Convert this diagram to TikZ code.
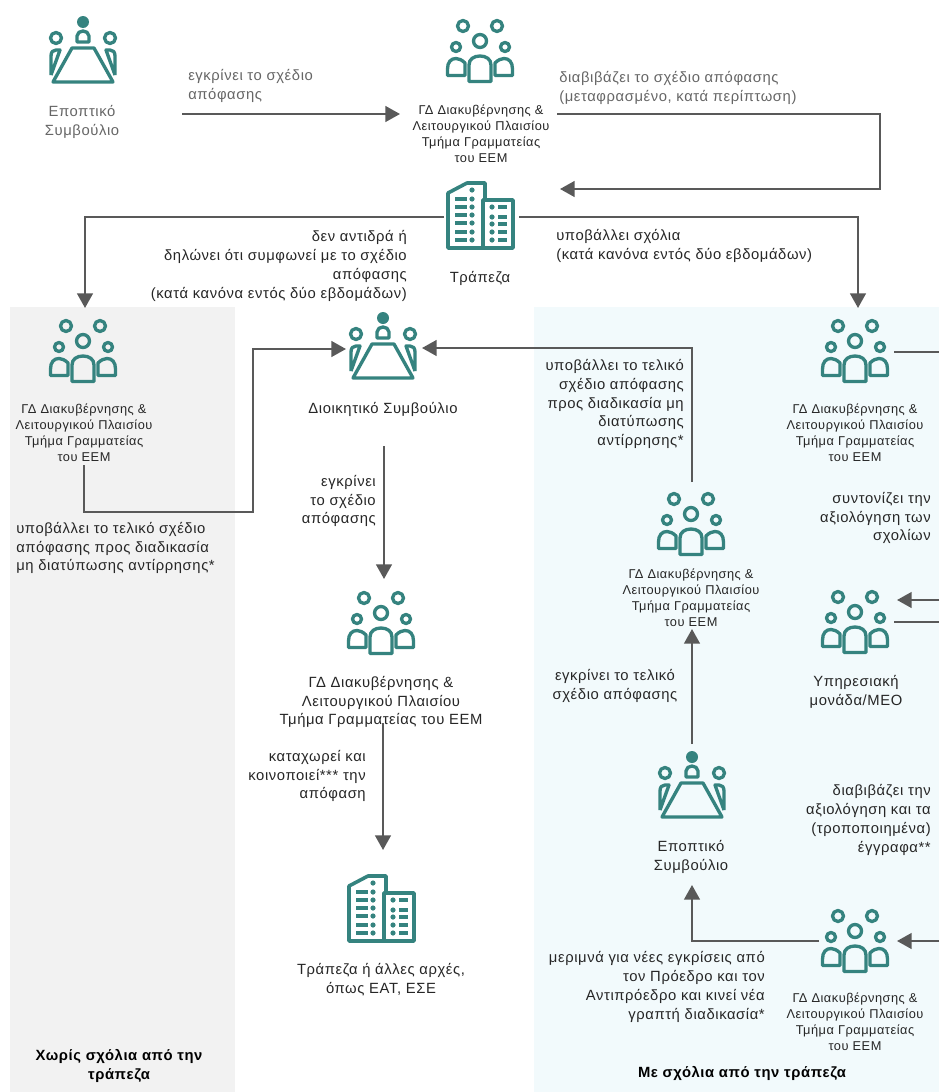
\documentclass[tikz,border=0pt]{standalone}
\usepackage{fontspec}
\setmainfont[LetterSpace=4]{Liberation Sans}
\usetikzlibrary{arrows.meta,calc}
\definecolor{iconteal}{HTML}{35837F}
\definecolor{linegray}{HTML}{595959}
\definecolor{softgray}{HTML}{666666}
\definecolor{inkgray}{HTML}{262626}
\definecolor{panelgray}{HTML}{F2F2F2}
\definecolor{panelblue}{HTML}{F2FAFC}
\tikzset{
  x=0.75pt,y=-0.75pt,
  iconline/.style={draw=iconteal,line width=2.5pt,line join=round},
  iconbox/.style={inner sep=0pt,minimum width=52.5pt,minimum height=52.5pt},
  conn/.style={draw=linegray,line width=1.6pt},
  arr/.style={conn,-{Triangle[length=10.9pt,width=11.7pt]}},
  body/.style={font=\fontsize{11.1}{14.2}\selectfont,text=inkgray,inner sep=0pt,align=center},
  bodyr/.style={body,align=right,anchor=east},
  bodyl/.style={body,align=left,anchor=west},
  soft/.style={text=softgray},
  small/.style={font=\fontsize{9.6}{12}\selectfont,text=inkgray,inner sep=0pt,align=center},
  head/.style={font=\fontsize{11.1}{14.2}\bfseries\selectfont,text=black,inner sep=0pt,align=center},
  groupicon/.pic={
    \draw[iconline] (-17,-24) circle (5.5);
    \draw[iconline] (17,-24) circle (5.5);
    \draw[iconline] (0,-9) circle (6.5);
    \draw[iconline] (-24,-3) circle (4.5);
    \draw[iconline] (25,-3) circle (4.5);
    \draw[iconline] (-11,31.5) -- (-11,15) .. controls (-11,9) and (-6,6) .. (0,6) .. controls (6,6) and (11,9) .. (11,15) -- (11,31.5) -- cycle;
    \draw[iconline] (-15,25.5) -- (-32.5,25.5) -- (-32.5,19) .. controls (-32.5,12) and (-29,8.5) .. (-24,8.5) .. controls (-21,8.5) and (-18,10) .. (-15,13) -- cycle;
    \draw[iconline] (15,25.5) -- (32.5,25.5) -- (32.5,19) .. controls (32.5,12) and (29,8.5) .. (24,8.5) .. controls (21,8.5) and (18,10) .. (15,13) -- cycle;
  },
  boardicon/.pic={
    \fill[iconteal] (0,-29) circle (6);
    \draw[iconline] (-6,-9) -- (-6,-15) .. controls (-6,-18) and (-3,-20) .. (0,-20) .. controls (3,-20) and (6,-18) .. (6,-15) -- (6,-9) -- cycle;
    \draw[iconline] (-27,-13) circle (5.5);
    \draw[iconline] (27,-13) circle (5.5);
    \draw[iconline] (-11,-3) -- (11,-3) -- (30,31) -- (-30,31) -- cycle;
    \draw[iconline] (-32,24) -- (-32,5) .. controls (-32,1) and (-30,-1) .. (-27,-1) -- (-23,-1) -- (-32,24);
    \draw[iconline] (32,24) -- (32,5) .. controls (32,1) and (30,-1) .. (27,-1) -- (23,-1) -- (32,24);
  },
  bankicon/.pic={
    \draw[iconline,line width=2.7pt] (3,33) -- (-32,33) -- (-32,-22) -- (-13,-32) -- (5,-32) -- (5,-15);
    \draw[iconline,line width=2.7pt] (3,-15) rectangle (33,33);
    \foreach \yy in {-16,-8,0,8,17,25} {
      \draw[iconteal,line width=2.7pt] (-25,\yy) -- (-13,\yy);
      \fill[iconteal] (-8,\yy) circle (2.6);
    }
    \fill[iconteal] (-8,-25) circle (2.6);
    \foreach \yy in {-8,2,9,17,25} {
      \fill[iconteal] (12,\yy) circle (2.6);
      \draw[iconteal,line width=2.7pt] (18,\yy) -- (27,\yy);
    }
  },
}
\begin{document}
\begin{tikzpicture}
\useasboundingbox (0,0) rectangle (939,1092);
\fill[white] (0,0) rectangle (939,1092);
\fill[panelgray] (10,307) rectangle (235,1092);
\fill[panelblue] (534,307) rectangle (939,1092);

% icon anchors
\node[iconbox] (boardTop) at (83,51) {};
\node[iconbox] (groupTop) at (480,50) {};
\node[iconbox] (bankTop) at (480,215) {};
\node[iconbox] (groupLeft) at (83,350) {};
\node[iconbox] (boardMain) at (383,347) {};
\node[iconbox] (groupMid) at (381,622) {};
\node[iconbox] (bankEnd) at (381,908) {};
\node[iconbox] (groupFinal) at (691,523) {};
\node[iconbox] (boardSup) at (692,786) {};
\node[iconbox] (groupRight) at (855,350) {};
\node[iconbox] (unitMEO) at (855,621) {};
\node[iconbox] (groupLow) at (855,940) {};
\coordinate (edgeA) at (939,352);
\coordinate (edgeB) at (939,600);
\coordinate (edgeC) at (939,622);
\coordinate (edgeD) at (939,941);

% icons
\pic at (boardTop) {boardicon};
\pic at (groupTop) {groupicon};
\pic at (bankTop) {bankicon};
\pic at (groupLeft) {groupicon};
\pic at (boardMain) {boardicon};
\pic at (groupMid) {groupicon};
\pic at (bankEnd) {bankicon};
\pic at (groupFinal) {groupicon};
\pic at (boardSup) {boardicon};
\pic at (groupRight) {groupicon};
\pic at (unitMEO) {groupicon};
\pic at (groupLow) {groupicon};

% connectors
\draw[arr] ($(boardTop)+(99,63)$) -- ($(groupTop)+(-80,64)$);
\draw[arr] ($(groupTop)+(77,64)$) -- (880,114) -- (880,189) -- ($(bankTop)+(80,-26)$);
\draw[arr] ($(bankTop)+(-36,2)$) -- (85,217) -- ($(groupLeft)+(2,-42)$);
\draw[arr] ($(bankTop)+(39,2)$) -- (858,217) -- ($(groupRight)+(3,-42)$);
\draw[arr] ($(groupLeft)+(1,115)$) -- (84,512) -- (253,512) -- (253,349) -- ($(boardMain)+(-37,2)$);
\draw[arr] ($(boardMain)+(1,99)$) -- ($(groupMid)+(3,-43)$);
\draw[arr] ($(groupMid)+(2,101)$) -- ($(bankEnd)+(2,-58)$);
\draw[arr] ($(boardSup)+(0,-42)$) -- ($(groupFinal)+(1,106)$);
\draw[arr] ($(groupFinal)+(1,-41)$) -- (692,348) -- ($(boardMain)+(39,1)$);
\draw[arr] ($(groupLow)+(-36,1)$) -- (692,941) -- ($(boardSup)+(0,99)$);
\draw[conn] ($(groupRight)+(39,2)$) -- (edgeA);
\draw[arr] (edgeB) -- ($(unitMEO)+(42,-21)$);
\draw[conn] ($(unitMEO)+(39,1)$) -- (edgeC);
\draw[arr] (edgeD) -- ($(groupLow)+(42,1)$);

% labels
\node[body,soft] (lbBoardTop) at (82,122) {Εποπτικό\\Συμβούλιο};
\node[small] (lbGroupTop) at (481,134) {ΓΔ Διακυβέρνησης \&\\Λειτουργικού Πλαισίου\\Τμήμα Γραμματείας\\του ΕΕΜ};
\node[body] (lbBank) at (480,278) {Τράπεζα};
\node[small] (lbGroupLeft) at (84,433) {ΓΔ Διακυβέρνησης \&\\Λειτουργικού Πλαισίου\\Τμήμα Γραμματείας\\του ΕΕΜ};
\node[body] (lbMain) at (383,409) {Διοικητικό Συμβούλιο};
\node[body] (lbMid) at (381,702) {ΓΔ Διακυβέρνησης \&\\Λειτουργικού Πλαισίου\\Τμήμα Γραμματείας του ΕΕΜ};
\node[body] (lbEnd) at (381,980) {Τράπεζα ή άλλες αρχές,\\όπως ΕΑΤ, ΕΣΕ};
\node[small] (lbFinal) at (691,598) {ΓΔ Διακυβέρνησης \&\\Λειτουργικού Πλαισίου\\Τμήμα Γραμματείας\\του ΕΕΜ};
\node[body] (lbSup) at (691,857) {Εποπτικό\\Συμβούλιο};
\node[small] (lbRight) at (855,433) {ΓΔ Διακυβέρνησης \&\\Λειτουργικού Πλαισίου\\Τμήμα Γραμματείας\\του ΕΕΜ};
\node[body] (lbMEO) at (856,692) {Υπηρεσιακή\\μονάδα/ΜΕΟ};
\node[small] (lbLow) at (855,1022) {ΓΔ Διακυβέρνησης \&\\Λειτουργικού Πλαισίου\\Τμήμα Γραμματείας\\του ΕΕΜ};

\node[bodyl,soft] (t1) at (188,86) {εγκρίνει το σχέδιο\\απόφασης};
\node[bodyl,soft] (t2) at (559,88) {διαβιβάζει το σχέδιο απόφασης\\(μεταφρασμένο, κατά περίπτωση)};
\node[bodyr] (t3) at (407,266) {δεν αντιδρά ή\\δηλώνει ότι συμφωνεί με το σχέδιο\\απόφασης\\(κατά κανόνα εντός δύο εβδομάδων)};
\node[bodyl] (t4) at (556,246) {υποβάλλει σχόλια\\(κατά κανόνα εντός δύο εβδομάδων)};
\node[bodyl] (t5) at (16,548) {υποβάλλει το τελικό σχέδιο\\απόφασης προς διαδικασία\\μη διατύπωσης αντίρρησης*};
\node[bodyr] (t6) at (376,501) {εγκρίνει\\το σχέδιο\\απόφασης};
\node[bodyr] (t7) at (366,776) {καταχωρεί και\\κοινοποιεί*** την\\απόφαση};
\node[bodyr] (t8) at (684,404) {υποβάλλει το τελικό\\σχέδιο απόφασης\\προς διαδικασία μη\\διατύπωσης\\αντίρρησης*};
\node[body] (t9) at (615,686) {εγκρίνει το τελικό\\σχέδιο απόφασης};
\node[bodyr] (t10) at (765,987) {μεριμνά για νέες εγκρίσεις από\\τον Πρόεδρο και τον\\Αντιπρόεδρο και κινεί νέα\\γραπτή διαδικασία*};
\node[bodyr] (t11) at (931,518) {συντονίζει την\\αξιολόγηση των\\σχολίων};
\node[bodyr] (t12) at (931,820) {διαβιβάζει την\\αξιολόγηση και τα\\(τροποποιημένα)\\έγγραφα**};
\node[head] (h1) at (119,1066) {Χωρίς σχόλια από την\\τράπεζα};
\node[head] (h2) at (742,1073) {Με σχόλια από την τράπεζα};
\end{tikzpicture}
\end{document}
